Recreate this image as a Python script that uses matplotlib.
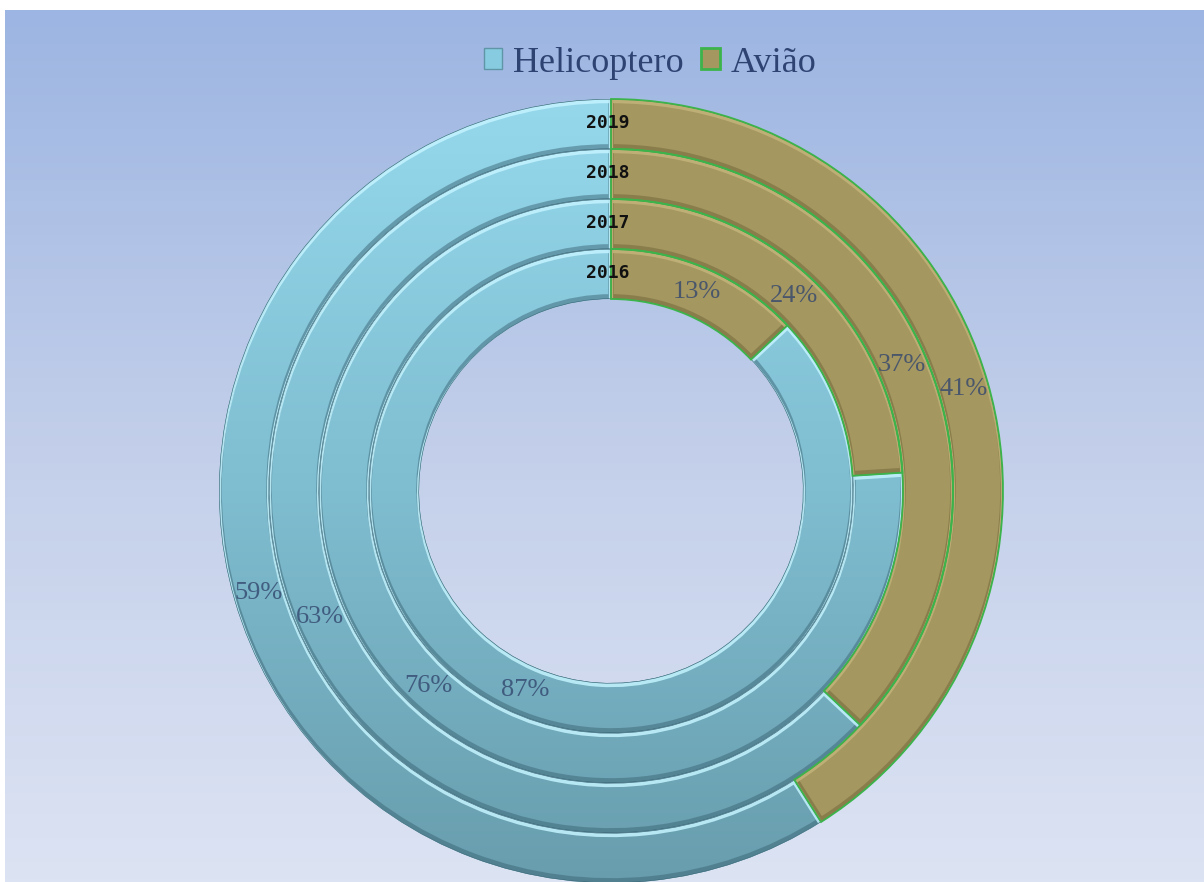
import numpy as np
import matplotlib.pyplot as plt
import matplotlib.patheffects as pe
from matplotlib.patches import Wedge, Patch
from matplotlib.colors import LinearSegmentedColormap

years = ['2016', '2017', '2018', '2019']
aviao = [13, 24, 37, 41]
helicoptero = [87, 76, 63, 59]
series = ['Helicoptero', 'Avião']

W, H = 1204, 882
cx, cy = 611, 391          # ring centre, figure pixels from bottom-left
r_hole, ring_w = 192, 50

heli_col = '#86cbe0'
aviao_col = '#a59760'
green = '#3cb44b'
text_col = '#33476f'

fig = plt.figure(figsize=(W / 100, H / 100), dpi=100)
fig.patch.set_facecolor('white')

# gradient panel behind the chart
bg = fig.add_axes([5 / W, 0, 1 - 5 / W, (H - 10) / H])
bg.axis('off')
bg_cmap = LinearSegmentedColormap.from_list('bg', ['#dce3f3', '#c3cfea', '#9cb5e2'])
bg.imshow(np.linspace(0, 1, 256).reshape(-1, 1), aspect='auto', cmap=bg_cmap,
          origin='lower', extent=[0, 1, 0, 1])
bg.set_xlim(0, 1)
bg.set_ylim(0, 1)

ax = fig.add_axes([0, 0, 1, 1])
ax.set_xlim(0, W)
ax.set_ylim(0, H)
ax.axis('off')

heli_cmap = LinearSegmentedColormap.from_list('heli', ['#689dad', '#7fbdd0', '#95d8ec'])
grad = np.linspace(0, 1, 256).reshape(-1, 1)
R = r_hole + ring_w * len(years)


def bevel(w, light, dark, z):
    b = Wedge(w.center, w.r, w.theta1, w.theta2, width=w.width, facecolor='none',
              edgecolor=dark, lw=0.8, zorder=z)
    b.set_path_effects([
        pe.Stroke(linewidth=4, foreground=dark, offset=(0, 1.5), alpha=0.5),
        pe.Stroke(linewidth=3.0, foreground=light, offset=(0, -1.5), alpha=0.85),
        pe.Normal(),
    ])
    ax.add_patch(b)
    b.set_clip_path(w)


def polar(r, deg_from_top):
    t = np.deg2rad(90 - deg_from_top)
    return cx + r * np.cos(t), cy + r * np.sin(t)


for i, (yr, av, he) in enumerate(zip(years, aviao, helicoptero)):
    r_out = r_hole + ring_w * (i + 1)
    r_mid = r_out - ring_w / 2
    total = av + he
    split = 360 * av / total

    # Helicoptero: gradient fill clipped to its wedge
    w_he = Wedge((cx, cy), r_out, 90 - 360, 90 - split, width=ring_w,
                 facecolor='none', edgecolor='none', zorder=2)
    ax.add_patch(w_he)
    im = ax.imshow(grad, aspect='auto', cmap=heli_cmap, origin='lower',
                   extent=[cx - R, cx + R, cy - R, cy + R], zorder=2)
    im.set_clip_path(w_he)
    bevel(w_he, '#c4f4ff', '#3b6676', 3)

    # Avião
    w_av = Wedge((cx, cy), r_out, 90 - split, 90, width=ring_w,
                 facecolor=aviao_col, edgecolor='none', zorder=2)
    ax.add_patch(w_av)
    bevel(w_av, '#c2b47a', '#6f6438', 3)
    ax.add_patch(Wedge((cx, cy), r_out, 90 - split, 90, width=ring_w,
                       facecolor='none', edgecolor=green, lw=1.3, zorder=4))

    # value labels at the middle of each segment
    x, y = polar(r_mid, split / 2)
    ax.text(x, y, f'{av}%', ha='center', va='center', fontsize=19,
            family='Liberation Serif', color=text_col, alpha=0.8, zorder=5)
    x, y = polar(r_mid, split + 360 * he / total / 2)
    ax.text(x, y, f'{he}%', ha='center', va='center', fontsize=19,
            family='Liberation Serif', color=text_col, alpha=0.8, zorder=5)

    # year label on the top of each ring
    ax.text(cx - 3, r_mid + cy + 1, yr, ha='center', va='center', fontsize=13,
            family='DejaVu Sans Mono', fontweight='bold', color='#111111', zorder=6)

handles = [Patch(facecolor=heli_col, edgecolor='#5f95a6', lw=1),
           Patch(facecolor=aviao_col, edgecolor=green, lw=2)]
fig.legend(handles, series, loc='center', bbox_to_anchor=(650 / W, 1 - 63 / H),
           ncol=2, frameon=False, prop={'family': 'Liberation Serif', 'size': 26},
           handlelength=0.5, handleheight=0.5, handletextpad=0.3,
           columnspacing=0.5, labelcolor='#2f4373')

fig.savefig('out.png', dpi=100, facecolor=fig.get_facecolor())
